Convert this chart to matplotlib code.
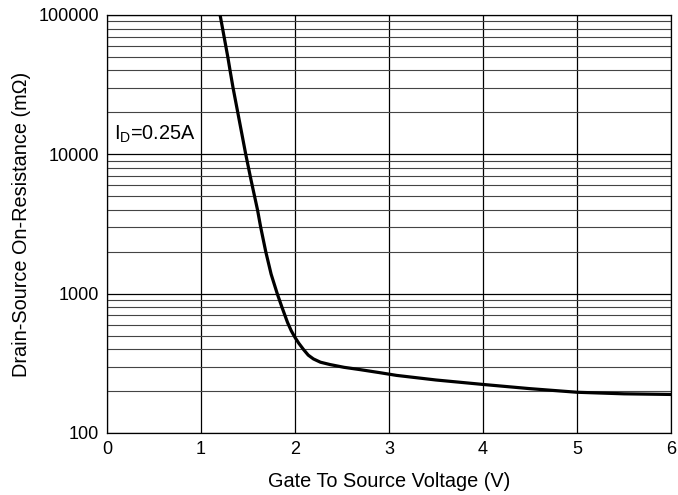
import matplotlib
matplotlib.use("Agg")
import matplotlib.pyplot as plt
from matplotlib.ticker import LogLocator, FixedLocator, NullFormatter

plt.rcParams['font.family'] = ['Liberation Sans', 'DejaVu Sans']

# values
vgs = [1.202, 1.284, 1.308, 1.34, 1.39, 1.475, 1.53, 1.60, 1.634, 1.688, 1.745,
       1.81, 1.86, 1.92, 1.96, 2.00, 2.04, 2.09, 2.14, 2.195, 2.27, 2.37, 2.52,
       2.69, 2.90, 3.08, 3.50, 4.0, 4.5, 5.0, 5.5, 6.0]
rds = [100000, 50000, 40000, 30000, 20000, 10000, 6600, 4000, 3000, 2000, 1380,
       1000, 800, 620, 540, 484, 440, 397, 362, 340, 322, 310, 296,
       285, 271, 259, 240, 223, 208, 196, 191, 189]

xticks = [0, 1, 2, 3, 4, 5, 6]
yticks = [100, 1000, 10000, 100000]
ylabels = ['100', '1000', '10000', '100000']

fig = plt.figure(figsize=(6.78, 4.95), dpi=100)
ax = fig.add_axes([0.158, 0.1253, 0.8317, 0.8444])

ax.plot(vgs, rds, color='black', lw=2.3, solid_joinstyle='round', zorder=3)

ax.set_yscale('log')
ax.set_xlim(0, 6)
ax.set_ylim(100, 100000)
ax.set_xticks(xticks)
ax.set_xticklabels([str(t) for t in xticks])
ax.yaxis.set_major_locator(FixedLocator(yticks))
ax.set_yticklabels(ylabels)
ax.yaxis.set_minor_locator(LogLocator(base=10, subs=range(2, 10)))
ax.yaxis.set_minor_formatter(NullFormatter())

ax.grid(True, which='major', color='black', lw=0.9)
ax.grid(True, which='minor', axis='y', color='#444444', lw=0.8)
ax.tick_params(which='both', length=0, labelsize=13, pad=6)

for s in ax.spines.values():
    s.set_color('black')
    s.set_linewidth(0.9)

ax.set_xlabel('Gate To Source Voltage (V)', fontsize=14.3, labelpad=10)
ax.set_ylabel('Drain-Source On-Resistance (m\u03a9)', fontsize=14.3, labelpad=5.5)

ax.text(0.012, 0.715, r'$\mathregular{I_D}$=0.25A', transform=ax.transAxes,
        fontsize=14.3, va='center', ha='left')

fig.savefig('out.png', dpi=100)
